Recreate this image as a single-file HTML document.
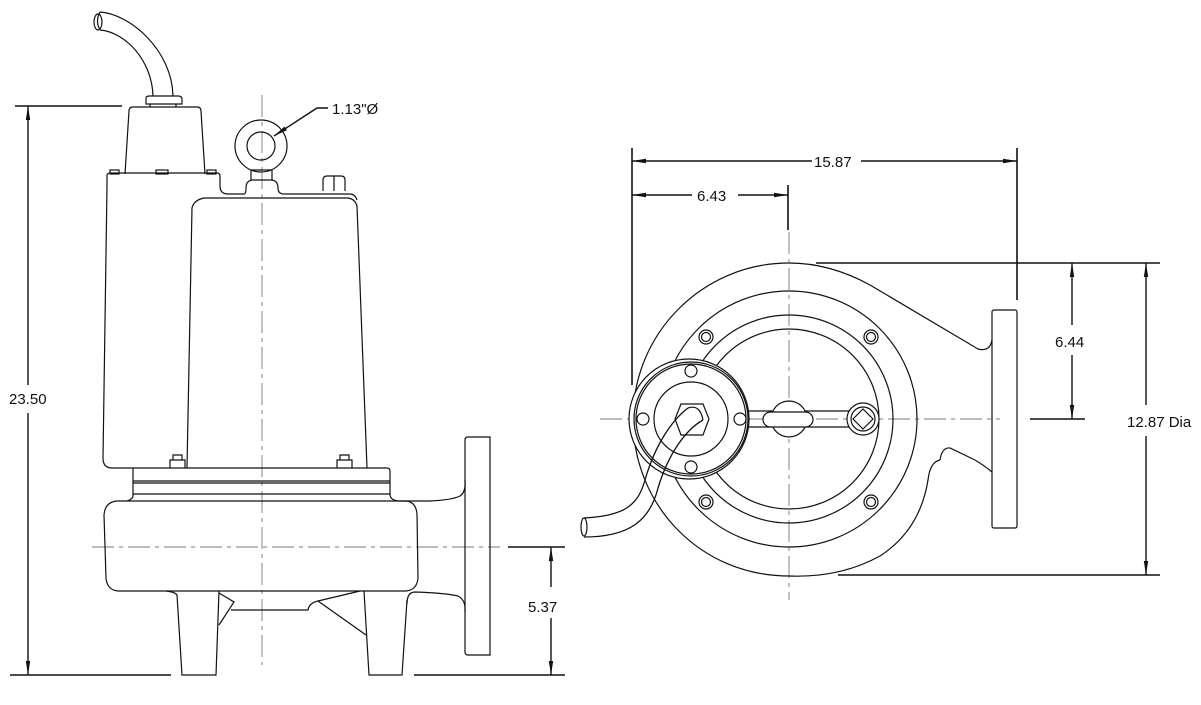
<!DOCTYPE html>
<html><head><meta charset="utf-8"><style>
html,body{margin:0;padding:0;background:#fff}
svg{display:block}
text{font-family:"Liberation Sans",sans-serif;font-size:15px;fill:#111}
</style></head><body>
<svg width="1201" height="705" viewBox="0 0 1201 705" xmlns="http://www.w3.org/2000/svg">
<defs>
<marker id="a" viewBox="0 0 14 6" refX="14" refY="3" markerWidth="14" markerHeight="6" orient="auto-start-reverse" markerUnits="userSpaceOnUse">
<path d="M0,0.8 L14,3 L0,5.2 Z" fill="#111"/></marker>
</defs>
<g fill="none" stroke="#111" stroke-width="1.2">
<!-- LEFT VIEW -->
<line x1="262" y1="95" x2="262" y2="665" stroke="#777" stroke-width="0.9" stroke-dasharray="22,5,4,5"/>
<line x1="92" y1="547" x2="500" y2="547" stroke="#777" stroke-width="0.9" stroke-dasharray="22,5,4,5"/>
<!-- cable -->
<path d="M100,12 C130,14 172,50 173,96"/>
<path d="M100,30 C125,32 152,60 153,96"/>
<path d="M100,12 Q95,21 100,30"/>
<ellipse cx="98" cy="22" rx="4" ry="8"/>
<!-- cap -->
<path d="M146,104 L146,98 Q146,96 150,96 L178,96 Q182,96 182,99 L182,104 Z"/>
<path d="M150,104 L150,107 M176,104 L176,107"/>
<path d="M125,174 L129,111 Q129,107 133,107 L197,107 Q201,107 201,111 L205,174"/>
<!-- top flange -->
<path d="M107,186 L107,176 Q107,173 110,173 L217,173 Q220,173 220,176 L220,186"/>
<rect x="110" y="170" width="9" height="4"/><rect x="156" y="170" width="12" height="4"/><rect x="207" y="170" width="9" height="4"/>
<!-- motor body -->
<path d="M107,186 L103,458 Q103,468 112,468 L133,468"/>
<path d="M220,186 Q220,194 228,194 L244,194 Q246,194 246,188 Q246,181 252,180 L272,180 Q278,181 278,188 Q278,194 284,194 L350,194 Q355,194 357,200"/>
<path d="M187,468 L192,208 Q194,200 204,198 L348,198 Q355,199 357,206 L367,468"/>
<!-- eye bolt -->
<circle cx="261" cy="146" r="26"/><circle cx="261" cy="146" r="14"/>
<path d="M251,170 L251,180 M272,170 L272,180 M251,170 L272,170"/>
<!-- hex -->
<path d="M323,191 L323,180 Q323,176 327,176 L341,176 Q345,176 345,180 L345,191 M334,176 L334,191"/>
<!-- bolts -->
<path d="M170,468 L170,460 L185,460 L185,468 M173,460 L173,455 L182,455 L182,460"/>
<path d="M337,468 L337,460 L352,460 L352,468 M340,460 L340,455 L349,455 L349,460"/>
<!-- flange plates -->
<path d="M133,468 L387,468 Q390,468 390,471 L390,494 L133,494 Z"/>
<line x1="133" y1="481" x2="390" y2="481"/><line x1="133" y1="483" x2="390" y2="483"/>
<path d="M133,494 Q134,499 127,501"/><path d="M390,494 Q390,500 398,501"/>
<!-- volute -->
<path d="M117,501 L406,501 Q416,502 417,514 L418,578 Q417,590 406,591 L118,591 Q107,590 106,578 L104,515 Q105,502 117,501 Z"/>
<path d="M398,501 L430,501 Q452,500 460,496 Q466,492 465,480"/>
<path d="M407,604 Q407,592 415,592 Q445,593 458,596 Q466,600 465,612"/>
<path d="M465,440 Q465,437 468,437 L490,437 L490,655 L468,655 Q465,655 465,652 Z"/>
<!-- legs & bottom -->
<path d="M166,591 Q175,592 177,595 L182,675 L216,675 L219,591"/>
<path d="M364,591 L369,675 L402,675 L407,600"/>
<path d="M219,593 L234,602 L219,625"/>
<path d="M231,610 L308,610 Q309,603 318,601 L360,591"/>
<path d="M318,601 L366,635"/>
<!-- dims left -->
<line x1="15" y1="106" x2="122" y2="106" stroke-width="1.6"/>
<line x1="10" y1="675" x2="171" y2="675" stroke-width="1.6"/>
<line x1="414" y1="675" x2="565" y2="675" stroke-width="1.6"/>
<line x1="508" y1="547" x2="565" y2="547" stroke-width="1.6"/>
<line x1="28" y1="385" x2="28" y2="106" stroke-width="1.4" marker-end="url(#a)"/>
<line x1="28" y1="413" x2="28" y2="675" stroke-width="1.4" marker-end="url(#a)"/>
<line x1="551" y1="587" x2="551" y2="547" stroke-width="1.4" marker-end="url(#a)"/>
<line x1="551" y1="618" x2="551" y2="675" stroke-width="1.4" marker-end="url(#a)"/>
<path d="M328,108 L317,108 L274,136" stroke-width="1.4" marker-end="url(#a)"/>

<!-- RIGHT VIEW -->
<line x1="600" y1="419" x2="1000" y2="419" stroke="#777" stroke-width="0.9" stroke-dasharray="22,5,4,5"/>
<line x1="789" y1="232" x2="789" y2="600" stroke="#777" stroke-width="0.9" stroke-dasharray="22,5,4,5"/>
<path d="M940,460 Q930,462 928,480 Q920,530 880,556 Q840,578 789,576 C700,576 633,505 633,419 C633,333 703,263 789,263 Q830,263 870,285 L978,349 Q990,352 992,340"/>
<path d="M992,472 Q985,466 975,460 L950,448 Q942,447 940,460"/>
<rect x="992" y="310" width="25" height="218" rx="2"/>
<circle cx="789" cy="419" r="128"/>
<circle cx="789" cy="419" r="104"/>
<circle cx="789" cy="419" r="90"/>
<circle cx="706" cy="337" r="7"/><circle cx="706" cy="337" r="4.5"/>
<circle cx="871" cy="337" r="7"/><circle cx="871" cy="337" r="4.5"/>
<circle cx="706" cy="502" r="7"/><circle cx="706" cy="502" r="4.5"/>
<circle cx="871" cy="502" r="7"/><circle cx="871" cy="502" r="4.5"/>
<path d="M745,411 L850,411 M745,427 L850,427" />
<circle cx="789" cy="419" r="18" fill="#fff"/>
<rect x="763" y="412" width="50" height="15" rx="7.5" fill="#fff"/>
<circle cx="863" cy="419" r="16" fill="#fff"/><circle cx="863" cy="419" r="12"/>
<path d="M863,409 L873,419 L863,429 L853,419 Z"/>
<circle cx="689" cy="419" r="60" fill="#fff"/>
<circle cx="691" cy="419" r="57"/><circle cx="691" cy="419" r="55"/>
<circle cx="691" cy="419" r="37"/>
<circle cx="691" cy="371" r="6"/><circle cx="691" cy="467" r="6"/>
<circle cx="643" cy="419" r="6"/><circle cx="740" cy="419" r="6"/>
<path d="M681,404 L703,404 L709,419 L703,435 L681,435 L675,419 Z"/>
<path d="M688,408 C672,420 655,445 645,480 C638,505 625,516 584,518" stroke-width="1.3"/>
<path d="M703,420 C685,430 668,455 658,488 C650,520 630,537 584,537" stroke-width="1.3"/>
<path d="M688,408 Q700,404 703,420"/>
<ellipse cx="584" cy="527" rx="3" ry="9"/>
<line x1="632" y1="148" x2="632" y2="385" stroke-width="1.6"/>
<line x1="1017" y1="148" x2="1017" y2="300" stroke-width="1.6"/>
<line x1="788" y1="185" x2="788" y2="230" stroke-width="1.6"/>
<line x1="812" y1="161" x2="632" y2="161" stroke-width="1.4" marker-end="url(#a)"/>
<line x1="861" y1="161" x2="1017" y2="161" stroke-width="1.4" marker-end="url(#a)"/>
<line x1="692" y1="195" x2="632" y2="195" stroke-width="1.4" marker-end="url(#a)"/>
<line x1="738" y1="195" x2="788" y2="195" stroke-width="1.4" marker-end="url(#a)"/>
<line x1="816" y1="263" x2="1160" y2="263" stroke-width="1.6"/>
<line x1="838" y1="575" x2="1160" y2="575" stroke-width="1.6"/>
<line x1="1030" y1="419" x2="1085" y2="419" stroke-width="1.6"/>
<line x1="1072" y1="325" x2="1072" y2="263" stroke-width="1.4" marker-end="url(#a)"/>
<line x1="1072" y1="355" x2="1072" y2="419" stroke-width="1.4" marker-end="url(#a)"/>
<line x1="1146" y1="405" x2="1146" y2="263" stroke-width="1.4" marker-end="url(#a)"/>
<line x1="1146" y1="436" x2="1146" y2="575" stroke-width="1.4" marker-end="url(#a)"/>
</g>
<text x="9" y="404">23.50</text>
<text x="528" y="612">5.37</text>
<text x="332" y="114">1.13"Ø</text>
<text x="814" y="167">15.87</text>
<text x="697" y="201">6.43</text>
<text x="1055" y="347">6.44</text>
<text x="1127" y="427">12.87 Dia</text>
</svg>
</body></html>
